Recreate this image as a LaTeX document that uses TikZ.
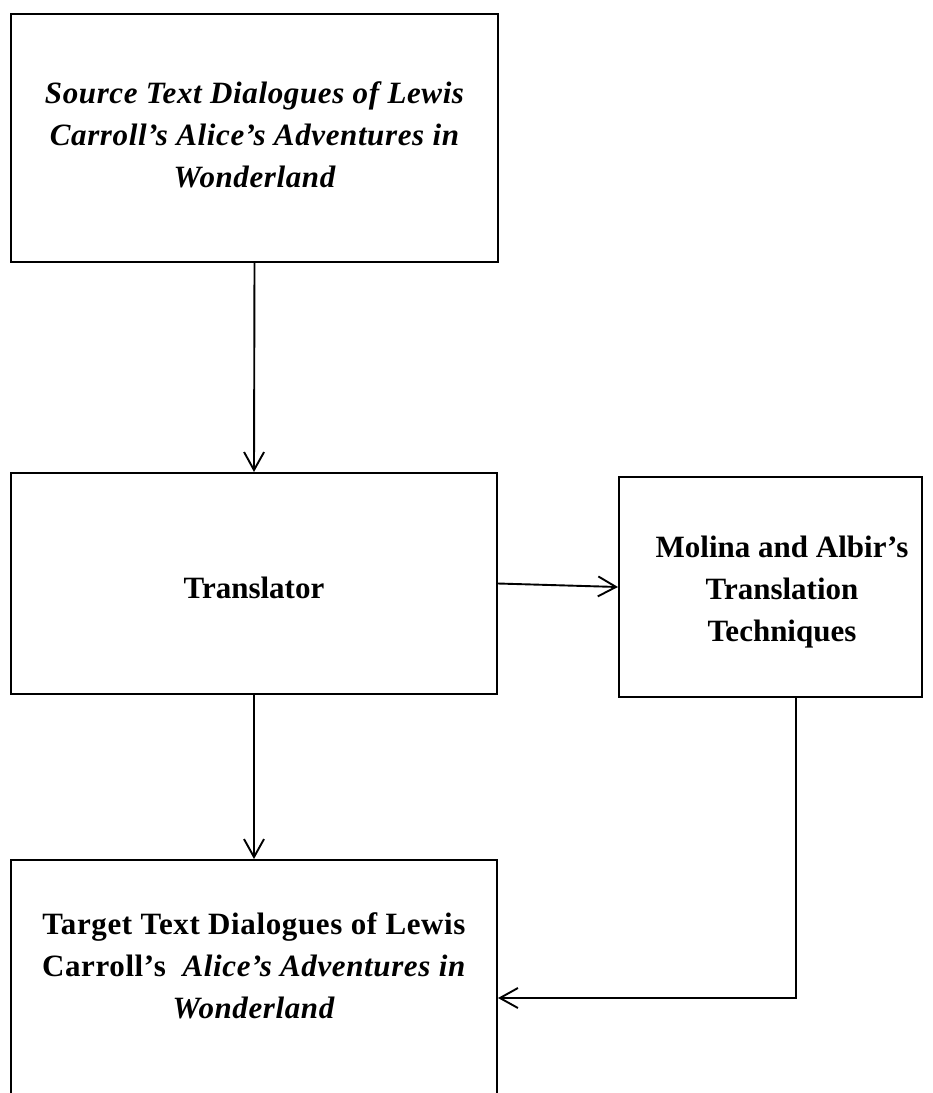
\documentclass[tikz,border=0pt]{standalone}
\usepackage{fontspec}
\setmainfont{Liberation Serif}
\usetikzlibrary{arrows.meta,calc}
\tikzset{
  box/.style={draw=black, line width=2pt, rectangle, inner sep=0pt},
  txt/.style={align=center, font=\fontsize{31}{42}\selectfont\bfseries, inner sep=0pt},
  wide/.style={font=\fontsize{31}{42}\selectfont\bfseries\addfontfeature{LetterSpace=2}},
  arr/.style={draw=black, line width=1.9pt, -{Straight Barb[length=18pt,width=20pt,line width=1.9pt]}},
}
\begin{document}
\begin{tikzpicture}[x=1pt,y=-1pt]
\useasboundingbox (0,0) rectangle (933,1093);
\clip (0,0) rectangle (933,1093);
\node[box, minimum width=487, minimum height=248] (src) at (254.5,138) {};
\node[txt, wide] (srct) at (254.5,135) {\itshape Source Text Dialogues of Lewis\\ \itshape Carroll’s Alice’s Adventures in\\ \itshape Wonderland};
\node[box, minimum width=486, minimum height=221] (tr) at (254,583.5) {};
\node[txt] (trt) at (254,588) {Translator};
\node[box, minimum width=303, minimum height=220] (m) at (770.5,587) {};
\node[txt] (mt) at (782,592) {Molina and Albir’s\\Translation\\Techniques};
\node[box, minimum width=486, minimum height=260] (t) at (254,990) {};
\node[txt, wide] (tt) at (254,966) {Target Text Dialogues of Lewis\\Carroll’s\ \ \textit{Alice’s Adventures in}\\\textit{Wonderland}};
\coordinate (turn) at (796,998);
\draw[arr] (src.south) -- (tr.north);
\draw[arr] (tr.east) -- (m.west);
\draw[arr] (tr.south) -- (t.north);
\draw[arr] (m.south -| turn) -- (turn) -- (t.east |- turn);
\end{tikzpicture}
\end{document}
